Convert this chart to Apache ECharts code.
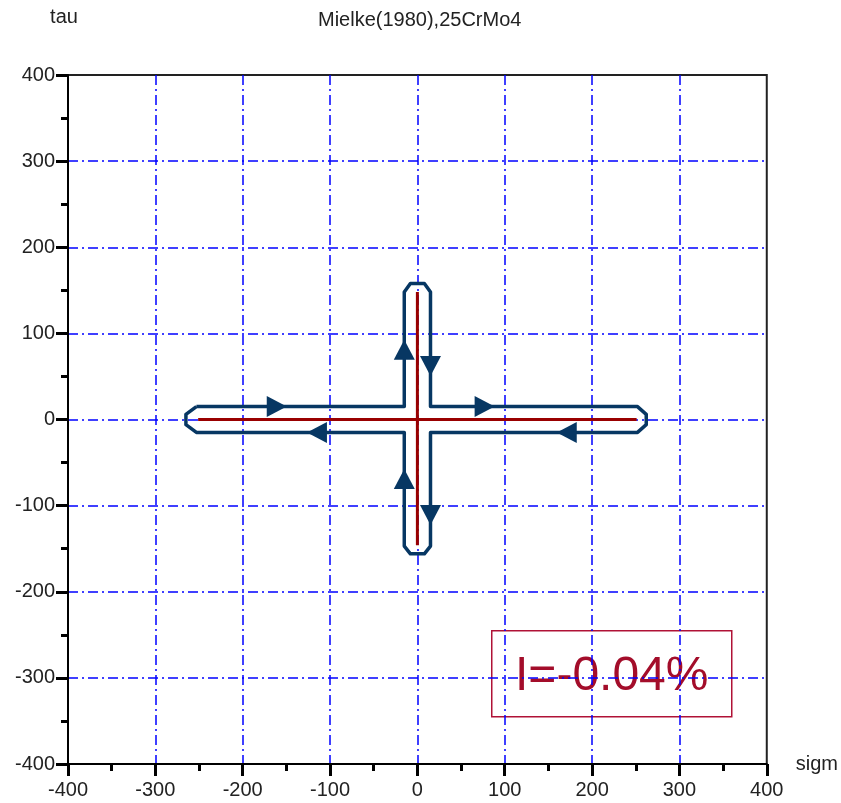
<!DOCTYPE html>
<html>
<head>
<meta charset="utf-8">
<title>Mielke(1980),25CrMo4</title>
<script src="https://cdn.jsdelivr.net/npm/echarts@6/dist/echarts.min.js"></script>
<style>
  html, body { margin: 0; padding: 0; background: #ffffff; }
  #chart { width: 841px; height: 803px; }
</style>
</head>
<body>
<div id="chart"></div>
<script>
// Load path: normal stress sigm vs. shear stress tau (cross-shaped, non-proportional)
const crossSigmH = [-251, 251];
const crossTauH = [0, 0];
const crossSigmV = [0, 0];
const crossTauV = [148, -146];

// Measured response contour around the load cross (traversed clockwise)
const contourSigm = [-253, -15, -15, -8, 8, 15, 15, 252, 262, 262, 252, 15, 15, 8, -8, -15, -15, -253, -265, -265, -253];
const contourTau  = [15, 15, 148, 158, 158, 148, 15, 15, 6, -6, -15, -15, -147, -156, -156, -147, -15, -15, -6, 6, 15];

// Direction markers along the contour
const arrowSigm = [-161, -15, 15, 77, 171, 15, -15, -115];
const arrowTau  = [15, 81, 62, 15, -15, -111, -69, -15];
const arrowDir  = ['right', 'up', 'down', 'right', 'left', 'down', 'up', 'left'];

const indexLabel = 'I=-0.04%';

const rotationFor = { up: 0, left: 90, down: 180, right: -90 };

const zip = (xs, ys) => xs.map((x, i) => [x, ys[i]]);

const labelFont = "'Liberation Sans', Arial, sans-serif";
const gridBlue = '#0000ff';
const dashDot = [10, 4, 2, 4];

const chart = echarts.init(document.getElementById('chart'), null, { renderer: 'canvas' });

chart.setOption({
  animation: false,
  backgroundColor: '#ffffff',
  title: {
    text: 'Mielke(1980),25CrMo4',
    left: 313,
    top: 5,
    textStyle: { fontFamily: labelFont, fontSize: 20, fontWeight: 'normal', color: '#222' }
  },
  grid: {
    left: 68, top: 75, width: 701, height: 689,
    show: true, borderColor: '#222', borderWidth: 2, backgroundColor: 'transparent'
  },
  xAxis: {
    type: 'value', min: -400, max: 400, interval: 100,
    name: 'sigm', nameLocation: 'end', nameGap: 29,
    nameTextStyle: { fontFamily: labelFont, fontSize: 20, color: '#222', verticalAlign: 'middle' },
    axisLine: { onZero: false, lineStyle: { color: '#000', width: 2 } },
    axisTick: { length: 12, lineStyle: { color: '#000', width: 3 } },
    minorTick: { show: true, splitNumber: 2, length: 7, lineStyle: { color: '#000', width: 3 } },
    axisLabel: { margin: 16, fontFamily: labelFont, fontSize: 20, color: '#222' },
    splitLine: { show: true, showMinLine: false, showMaxLine: false,
      lineStyle: { color: gridBlue, width: 1.5, type: dashDot } }
  },
  yAxis: {
    type: 'value', min: -400, max: 400, interval: 100,
    name: 'tau', nameLocation: 'end', nameGap: 48,
    nameTextStyle: { fontFamily: labelFont, fontSize: 20, color: '#222', align: 'center', padding: [0, 8, 0, 0] },
    axisLine: { onZero: false, lineStyle: { color: '#000', width: 2 } },
    axisTick: { length: 12, lineStyle: { color: '#000', width: 3 } },
    minorTick: { show: true, splitNumber: 2, length: 7, lineStyle: { color: '#000', width: 3 } },
    axisLabel: { margin: 13, fontFamily: labelFont, fontSize: 20, color: '#222' },
    splitLine: { show: true, showMinLine: false, showMaxLine: false,
      lineStyle: { color: gridBlue, width: 1.5, type: dashDot } }
  },
  series: [
    {
      type: 'line', name: 'load sigm', data: zip(crossSigmH, crossTauH),
      showSymbol: false, silent: true,
      lineStyle: { color: '#990000', width: 3 }, z: 3
    },
    {
      type: 'line', name: 'load tau', data: zip(crossSigmV, crossTauV),
      showSymbol: false, silent: true,
      lineStyle: { color: '#990000', width: 3 }, z: 3
    },
    {
      type: 'line', name: 'contour', data: zip(contourSigm, contourTau),
      showSymbol: false, silent: true,
      lineStyle: { color: '#073763', width: 3.5, join: 'round' }, z: 4
    },
    {
      type: 'scatter', name: 'direction',
      data: arrowSigm.map((x, i) => ({
        value: [x, arrowTau[i]],
        symbolRotate: rotationFor[arrowDir[i]]
      })),
      symbol: 'triangle', symbolSize: [21, 20], silent: true,
      itemStyle: { color: '#073763', opacity: 1 }, z: 5
    }
  ],
  graphic: [
    {
      type: 'group', left: 491, top: 630,
      children: [
        {
          type: 'rect', shape: { x: 0, y: 0, width: 240, height: 86 },
          style: { fill: '#ffffff', fillOpacity: 0, stroke: '#b01236', lineWidth: 1.5 }
        },
        {
          type: 'text', x: 120, y: 46,
          style: {
            text: indexLabel, fill: '#a30d2a',
            font: "48px 'Liberation Sans', Arial, sans-serif",
            align: 'center', verticalAlign: 'middle'
          }
        }
      ]
    }
  ]
});
</script>
</body>
</html>
